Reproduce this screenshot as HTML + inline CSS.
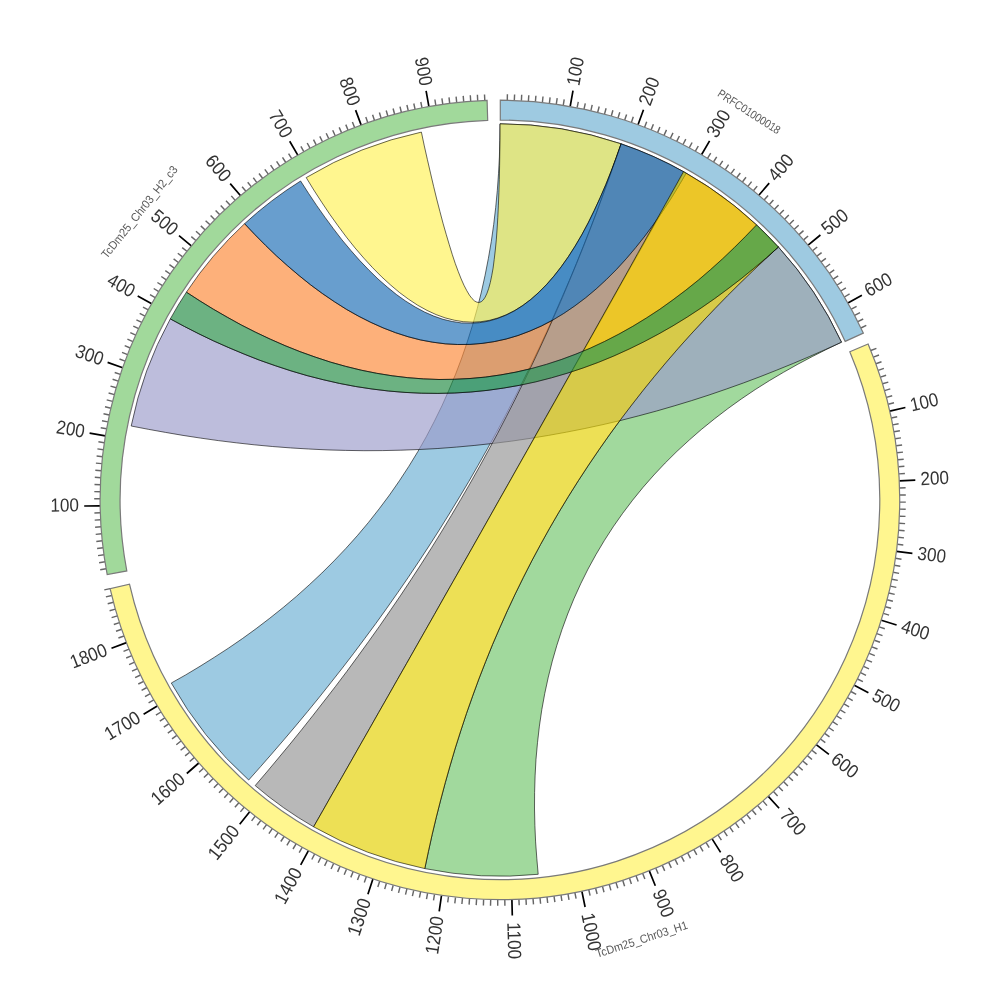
<!DOCTYPE html>
<html><head><meta charset="utf-8"><title>Circos</title>
<style>html,body{margin:0;padding:0;background:#fff}svg{display:block}</style></head>
<body><svg width="1000" height="1000" viewBox="0 0 1000 1000">
<rect width="1000" height="1000" fill="#fff"/>
<path d="M248.7 780 A376.2 376.2 0 0 1 171.3 683 L185.7 674.9 200 666.3 214.2 657.4 228.4 648.2 242.4 638.6 256.2 628.6 269.8 618.2 283.2 607.5 296.4 596.4 309.2 584.9 321.8 573.1 334 560.9 345.9 548.4 357.4 535.6 368.5 522.4 379.2 508.8 389.5 495 399.4 480.8 408.8 466.4 417.8 451.7 426.3 436.7 434.3 421.4 441.9 405.9 448.9 390.2 455.6 374.2 461.7 358.1 467.3 341.8 472.5 325.3 477.2 308.7 481.4 292 485.1 275.2 488.4 258.3 491.3 241.4 493.7 224.5 495.7 207.5 497.3 190.6 498.5 173.7 499.4 157 499.8 140.3 500 123.8 A376.2 376.2 0 0 1 621.1 143.8 L615.2 160.8 609.2 177.8 603 194.8 596.7 211.9 590.1 229 583.4 246.1 576.5 263.2 569.4 280.3 562 297.3 554.5 314.4 546.8 331.4 538.9 348.4 530.8 365.3 522.5 382.1 514 398.9 505.3 415.7 496.5 432.3 487.4 448.8 478.1 465.3 468.7 481.7 459 497.9 449.2 514 439.2 530.1 429.1 545.9 418.7 561.7 408.3 577.3 397.6 592.8 386.8 608.2 375.9 623.4 364.8 638.4 353.7 653.3 342.3 668.1 330.9 682.6 319.4 697.1 307.8 711.3 296.1 725.4 284.3 739.3 272.5 753 260.6 766.6 248.7 780Z" fill="#6cb0d4" fill-opacity="0.667" stroke="#000" stroke-width="0.7" stroke-opacity="0.85"/>
<path d="M538.2 874.3 A376.2 376.2 0 0 1 424.8 868.6 L428.4 851.6 432.2 834.4 436.3 817.2 440.7 799.9 445.3 782.6 450.2 765.3 455.3 748 460.8 730.7 466.5 713.4 472.6 696.1 478.9 678.9 485.6 661.7 492.5 644.6 499.8 627.7 507.3 610.8 515.2 594 523.4 577.3 531.8 560.8 540.6 544.4 549.6 528.2 558.9 512.2 568.5 496.3 578.4 480.6 588.6 465 599 449.7 609.6 434.6 620.5 419.7 631.7 405 643 390.5 654.6 376.2 666.3 362.2 678.2 348.4 690.3 334.9 702.6 321.6 715 308.5 727.5 295.7 740.1 283.2 752.8 270.9 765.6 258.8 778.4 247 A376.2 376.2 0 0 1 841.5 342.2 L826.9 349.2 812.4 356.5 797.9 364.2 783.5 372.3 769.3 380.7 755.2 389.6 741.4 398.9 727.9 408.6 714.7 418.7 701.7 429.2 689.2 440.1 677 451.3 665.2 463 653.9 475 643 487.4 632.6 500.2 622.7 513.3 613.2 526.8 604.3 540.6 595.9 554.7 588 569.1 580.7 583.8 573.9 598.8 567.7 614 562 629.5 556.9 645.2 552.3 661.1 548.3 677.1 544.8 693.3 541.8 709.7 539.4 726.1 537.5 742.7 536 759.2 535.1 775.9 534.6 792.5 534.5 809 534.9 825.5 535.6 841.9 536.8 858.2 538.2 874.3Z" fill="#72c66c" fill-opacity="0.667" stroke="#000" stroke-width="0.7" stroke-opacity="0.85"/>
<path d="M306.2 177.6 A376.2 376.2 0 0 1 421.4 132.1 L424.3 145.9 427.4 159.6 430.5 173.1 433.6 186.3 436.7 199 439.9 211.4 443 223.2 446.2 234.3 449.3 244.8 452.3 254.6 455.3 263.6 458.3 271.7 461.2 279 464 285.3 466.8 290.7 469.4 295.1 472 298.5 474.5 300.9 476.9 302.2 479.1 302.5 481.3 301.7 483.3 299.9 485.2 297.1 487 293.2 488.7 288.4 490.3 282.5 491.7 275.8 493.1 268.1 494.2 259.5 495.3 250.1 496.3 239.9 497.1 229 497.8 217.4 498.4 205.2 498.9 192.5 499.3 179.3 499.6 165.8 499.8 151.9 500 137.9 500 123.8 A376.2 376.2 0 0 1 621.1 143.8 L616.3 157.6 611.2 171.2 605.8 184.6 600.2 197.7 594.3 210.5 588.2 222.9 581.9 234.7 575.3 246 568.4 256.7 561.4 266.7 554.1 276 546.7 284.5 539 292.3 531.2 299.2 523.2 305.2 515 310.4 506.7 314.6 498.2 317.9 489.6 320.3 480.9 321.7 472.1 322.2 463.2 321.7 454.2 320.2 445.2 317.9 436.1 314.6 427 310.4 417.8 305.3 408.7 299.3 399.6 292.6 390.6 285 381.5 276.7 372.6 267.7 363.8 258.1 355 247.9 346.4 237.1 338 225.8 329.7 214.2 321.7 202.2 313.8 190 306.2 177.6Z" fill="#fff257" fill-opacity="0.667" stroke="#000" stroke-width="0.7" stroke-opacity="0.85"/>
<path d="M131.2 426 A376.2 376.2 0 0 1 170.3 318.9 L184.5 326.5 199 333.9 213.8 341 228.9 347.7 244.2 354.1 259.6 360.2 275.3 365.7 291.1 370.9 307.1 375.6 323.2 379.7 339.4 383.4 355.7 386.5 372.1 389 388.5 391 405 392.4 421.4 393.2 437.9 393.4 454.3 393 470.7 392 487 390.4 503.3 388.1 519.5 385.3 535.6 381.9 551.5 377.8 567.3 373.2 583 368 598.5 362.3 613.8 356 629 349.1 643.9 341.8 658.6 334 673 325.8 687.2 317.1 701.1 308 714.8 298.5 728.1 288.7 741.2 278.7 753.9 268.3 766.4 257.8 778.4 247 A376.2 376.2 0 0 1 841.5 342.2 L825.7 349.4 809.6 356.5 793.3 363.4 776.8 370.1 760.1 376.7 743.3 383 726.2 389.1 709 395 691.7 400.6 674.2 405.9 656.6 411 638.8 415.8 620.9 420.4 603 424.6 584.9 428.5 566.7 432.1 548.5 435.4 530.1 438.4 511.8 441.1 493.3 443.4 474.9 445.4 456.4 447.1 437.9 448.5 419.3 449.5 400.8 450.2 382.3 450.6 363.9 450.7 345.4 450.4 327 449.9 308.7 449 290.4 447.9 272.3 446.5 254.2 444.8 236.2 442.8 218.3 440.6 200.6 438.1 183 435.4 165.5 432.4 148.3 429.3 131.2 426Z" fill="#9c9ccb" fill-opacity="0.667" stroke="#000" stroke-width="0.7" stroke-opacity="0.85"/>
<path d="M186.4 292.2 A376.2 376.2 0 0 1 244.6 223.7 L255 234.7 265.6 245.4 276.5 255.9 287.7 265.9 299.1 275.6 310.7 284.9 322.5 293.6 334.4 301.7 346.4 309.3 358.6 316.2 370.9 322.4 383.2 327.9 395.6 332.7 408 336.7 420.4 339.9 432.8 342.2 445.2 343.8 457.6 344.5 469.9 344.4 482.1 343.4 494.2 341.6 506.1 339 518 335.5 529.7 331.1 541.3 326 552.7 320.1 563.8 313.4 574.8 305.9 585.6 297.8 596.1 289 606.4 279.5 616.5 269.4 626.2 258.8 635.7 247.6 644.9 236 653.8 224 662.4 211.6 670.7 199 678.6 186.1 686.2 173.1 A376.2 376.2 0 0 1 756.6 224.9 L745.6 236.3 734.3 247.6 722.7 258.7 710.7 269.5 698.5 280 685.9 290.1 673 299.8 659.9 309.2 646.4 318 632.8 326.3 618.9 334.1 604.7 341.4 590.4 348.1 575.9 354.1 561.1 359.6 546.3 364.4 531.3 368.6 516.1 372.1 500.8 374.9 485.5 377.1 470 378.5 454.5 379.3 439 379.5 423.4 378.9 407.8 377.7 392.2 375.8 376.7 373.3 361.2 370.2 345.7 366.4 330.4 362.1 315.2 357.1 300.1 351.7 285.1 345.7 270.3 339.2 255.7 332.3 241.3 325 227.2 317.2 213.3 309.2 199.7 300.8 186.4 292.2Z" fill="#fc8938" fill-opacity="0.667" stroke="#000" stroke-width="0.7" stroke-opacity="0.85"/>
<path d="M313.6 826.8 A376.2 376.2 0 0 1 255.2 785.6 L266.8 772 278.4 758.1 290 744.1 301.5 729.9 312.9 715.5 324.2 701 335.5 686.4 346.7 671.6 357.7 656.6 368.6 641.5 379.5 626.2 390.1 610.8 400.7 595.3 411.1 579.6 421.4 563.8 431.5 547.9 441.4 531.9 451.2 515.7 460.8 499.4 470.3 483 479.5 466.6 488.6 450 497.6 433.4 506.3 416.6 514.9 399.8 523.2 382.9 531.4 366 539.4 349 547.2 332 554.8 314.9 562.3 297.8 569.5 280.6 576.6 263.5 583.5 246.3 590.2 229.2 596.7 212.1 603 194.9 609.2 177.9 615.2 160.8 621.1 143.8 A376.2 376.2 0 0 1 684.2 172 L675 188.4 665.8 204.8 656.6 221.2 647.4 237.5 638.2 253.9 628.9 270.3 619.7 286.7 610.5 303.1 601.3 319.5 592 335.9 582.8 352.3 573.5 368.7 564.3 385 555.1 401.4 545.8 417.8 536.5 434.2 527.3 450.6 518 467 508.8 483.3 499.5 499.7 490.2 516.1 481 532.5 471.7 548.8 462.4 565.2 453.1 581.6 443.8 597.9 434.5 614.3 425.3 630.7 416 647 406.7 663.4 397.4 679.7 388.1 696.1 378.8 712.4 369.5 728.8 360.2 745.1 350.9 761.5 341.6 777.8 332.2 794.1 322.9 810.5 313.6 826.8Z" fill="#959595" fill-opacity="0.667" stroke="#000" stroke-width="0.7" stroke-opacity="0.85"/>
<path d="M244.6 223.7 A376.2 376.2 0 0 1 300.6 181 L308.5 193.3 316.6 205.4 324.9 217.2 333.4 228.7 342 239.9 350.9 250.5 359.8 260.6 368.9 270.1 378 279 387.3 287.1 396.5 294.6 405.8 301.2 415.2 307 424.5 312 433.8 316.1 443 319.3 452.3 321.5 461.4 322.9 470.5 323.2 479.4 322.7 488.3 321.2 497 318.7 505.6 315.3 514.1 311 522.4 305.8 530.5 299.7 538.4 292.7 546.2 284.9 553.7 276.3 561 267 568.2 256.9 575 246.2 581.7 234.9 588.1 223 594.2 210.6 600.1 197.8 605.8 184.7 611.1 171.2 616.2 157.6 621.1 143.8 A376.2 376.2 0 0 1 686.2 173.1 L678.6 186.1 670.7 199 662.4 211.6 653.8 224 644.9 236 635.7 247.6 626.2 258.8 616.5 269.4 606.4 279.5 596.1 289 585.6 297.8 574.8 305.9 563.8 313.4 552.7 320.1 541.3 326 529.7 331.1 518 335.5 506.1 339 494.2 341.6 482.1 343.4 469.9 344.4 457.6 344.5 445.2 343.8 432.8 342.2 420.4 339.9 408 336.7 395.6 332.7 383.2 327.9 370.9 322.4 358.6 316.2 346.4 309.3 334.4 301.7 322.5 293.6 310.7 284.9 299.1 275.6 287.7 265.9 276.5 255.9 265.6 245.4 255 234.7 244.6 223.7Z" fill="#1d6eb6" fill-opacity="0.667" stroke="#000" stroke-width="0.7" stroke-opacity="0.85"/>
<path d="M424.8 868.6 A376.2 376.2 0 0 1 313.6 826.8 L322.9 810.5 332.2 794.1 341.5 777.8 350.8 761.5 360.1 745.1 369.4 728.8 378.7 712.4 388 696.1 397.3 679.7 406.6 663.4 415.9 647 425.2 630.6 434.5 614.3 443.7 597.9 453 581.5 462.3 565.2 471.6 548.8 480.8 532.4 490.1 516 499.3 499.6 508.6 483.2 517.8 466.8 527.1 450.4 536.3 434.1 545.5 417.7 554.8 401.3 564 384.9 573.2 368.5 582.4 352.1 591.7 335.7 600.9 319.2 610.1 302.8 619.3 286.4 628.5 270 637.6 253.6 646.8 237.2 656 220.8 665.2 204.4 674.4 188 683.5 171.6 A376.2 376.2 0 0 1 778.4 247 L765.6 258.8 752.8 270.9 740.1 283.2 727.5 295.7 715 308.5 702.6 321.6 690.3 334.9 678.2 348.4 666.3 362.2 654.6 376.2 643 390.5 631.7 405 620.5 419.7 609.6 434.6 599 449.7 588.6 465 578.4 480.6 568.5 496.3 558.9 512.2 549.6 528.2 540.6 544.4 531.8 560.8 523.4 577.3 515.2 594 507.3 610.8 499.8 627.7 492.5 644.6 485.6 661.7 478.9 678.9 472.6 696.1 466.5 713.4 460.8 730.7 455.3 748 450.2 765.3 445.3 782.6 440.7 799.9 436.3 817.2 432.2 834.4 428.4 851.6 424.8 868.6Z" fill="#e4d100" fill-opacity="0.667" stroke="#000" stroke-width="0.7" stroke-opacity="0.85"/>
<path d="M170.3 318.9 A376.2 376.2 0 0 1 186.4 292.2 L199.7 300.8 213.3 309.2 227.2 317.2 241.3 325 255.7 332.3 270.3 339.2 285.1 345.7 300.1 351.7 315.2 357.1 330.4 362.1 345.7 366.4 361.2 370.2 376.7 373.3 392.2 375.8 407.8 377.7 423.4 378.9 439 379.5 454.5 379.3 470 378.5 485.5 377.1 500.8 374.9 516.1 372.1 531.3 368.6 546.3 364.4 561.1 359.6 575.9 354.1 590.4 348.1 604.7 341.4 618.9 334.1 632.8 326.3 646.4 318 659.9 309.2 673 299.8 685.9 290.1 698.5 280 710.7 269.5 722.7 258.7 734.3 247.6 745.6 236.3 756.6 224.9 A376.2 376.2 0 0 1 778.4 247 L766.4 257.8 753.9 268.3 741.2 278.7 728.1 288.7 714.8 298.5 701.1 308 687.2 317.1 673 325.8 658.6 334 643.9 341.8 629 349.1 613.8 356 598.5 362.3 583 368 567.3 373.2 551.5 377.8 535.6 381.9 519.5 385.3 503.3 388.1 487 390.4 470.7 392 454.3 393 437.9 393.4 421.4 393.2 405 392.4 388.5 391 372.1 389 355.7 386.5 339.4 383.4 323.2 379.7 307.1 375.6 291.1 370.9 275.3 365.7 259.6 360.2 244.2 354.1 228.9 347.7 213.8 341 199 333.9 184.5 326.5 170.3 318.9Z" fill="#238c44" fill-opacity="0.667" stroke="#000" stroke-width="0.7" stroke-opacity="0.85"/>
<path d="M507.3 100.3L507.4 94.3M514.3 100.5L514.6 94.5M521.4 100.8L521.7 94.8M528.4 101.2L528.8 95.2M535.4 101.8L535.9 95.8M542.4 102.5L543 96.5M549.4 103.3L550.1 97.3M556.3 104.2L557.2 98.2M563.3 105.2L564.2 99.3M577.1 107.7L578.3 101.8M584 109.1L585.3 103.3M590.9 110.7L592.2 104.8M597.7 112.3L599.2 106.5M604.5 114.1L606.1 108.3M611.3 116L612.9 110.2M618 118L619.8 112.3M624.7 120.1L626.6 114.4M631.4 122.4L633.3 116.7M644.6 127.3L646.7 121.7M651.1 129.9L653.4 124.3M657.6 132.6L659.9 127M664 135.4L666.5 129.9M670.4 138.3L673 132.9M676.7 141.4L679.4 136M683 144.5L685.8 139.2M689.2 147.8L692.1 142.5M695.4 151.2L698.3 146M707.5 158.3L710.7 153.2M713.5 162L716.7 156.9M719.4 165.8L722.7 160.8M725.3 169.7L728.6 164.7M731 173.7L734.5 168.8M736.7 177.8L740.3 173M742.4 182L746 177.3M747.9 186.4L751.6 181.6M753.4 190.8L757.2 186.1M764.1 199.9L768.1 195.4M769.4 204.6L773.4 200.1M774.5 209.3L778.6 205M779.6 214.2L783.8 209.9M784.6 219.2L788.8 215M789.5 224.2L793.8 220.1M794.3 229.3L798.7 225.3M799 234.6L803.5 230.6M803.6 239.9L808.1 236M812.5 250.7L817.2 247M816.9 256.2L821.6 252.6M821.1 261.8L825.9 258.3M825.3 267.5L830.1 264M829.3 273.3L834.2 269.9M833.2 279.1L838.2 275.8M837.1 285L842.1 281.8M840.8 291L845.9 287.8M844.4 297L849.6 293.9M851.3 309.2L856.6 306.4M854.6 315.4L860 312.7M857.8 321.7L863.2 319M860.9 328L866.3 325.4M870.8 350.5L876.4 348.3M873.4 357.1L879 355M875.9 363.7L881.5 361.7M878.2 370.4L883.9 368.4M880.4 377.1L886.1 375.2M882.5 383.8L888.3 382.1M884.5 390.6L890.3 388.9M886.4 397.4L892.2 395.8M888.2 404.2L894 402.8M891.3 418L897.2 416.7M892.7 424.9L898.6 423.8M893.9 431.8L899.9 430.8M895.1 438.8L901 437.9M896.1 445.8L902.1 445M897 452.8L903 452.1M897.8 459.8L903.7 459.2M898.4 466.8L904.4 466.3M898.9 473.9L904.9 473.5M899.6 488L905.6 487.8M899.8 495L905.8 495M899.8 502.1L905.8 502.1M899.7 509.1L905.7 509.3M899.5 516.2L905.5 516.4M899.1 523.3L905.1 523.6M898.7 530.3L904.6 530.7M898.1 537.3L904 537.9M897.3 544.3L903.3 545M895.5 558.3L901.5 559.2M894.4 565.3L900.3 566.3M893.2 572.3L899.1 573.4M891.9 579.2L897.8 580.4M890.4 586.1L896.3 587.4M888.8 593L894.7 594.4M887.1 599.8L892.9 601.3M885.3 606.7L891.1 608.3M883.4 613.4L889.1 615.1M879.1 626.9L884.8 628.8M876.8 633.6L882.5 635.6M874.4 640.2L880 642.3M871.9 646.8L877.5 649M869.2 653.3L874.8 655.6M866.5 659.8L872 662.2M863.6 666.3L869 668.8M860.6 672.7L866 675.3M857.5 679L862.9 681.7M850.9 691.5L856.2 694.4M847.5 697.7L852.7 700.6M844 703.8L849.1 706.8M840.3 709.8L845.4 713M836.6 715.8L841.6 719M832.7 721.7L837.7 725M828.7 727.5L833.7 731M824.7 733.3L829.5 736.8M820.5 739L825.3 742.6M811.9 750.2L816.5 753.9M807.4 755.6L812 759.5M802.8 761L807.4 764.9M798.2 766.3L802.7 770.3M793.4 771.6L797.8 775.6M788.6 776.7L792.9 780.8M783.7 781.7L787.9 786M778.6 786.7L782.8 791M773.5 791.6L777.6 796M763.1 801.1L767 805.6M757.7 805.6L761.6 810.2M752.3 810.2L756.1 814.8M746.8 814.6L750.5 819.3M741.2 818.9L744.8 823.6M735.5 823.1L739 827.9M729.8 827.2L733.2 832.1M724 831.2L727.3 836.2M718.1 835.1L721.4 840.1M706.1 842.6L709.2 847.7M700 846.2L703 851.4M693.9 849.6L696.8 854.9M687.7 853L690.5 858.3M681.4 856.3L684.2 861.6M675.1 859.4L677.7 864.8M668.7 862.4L671.3 867.9M662.3 865.4L664.7 870.9M655.8 868.2L658.2 873.7M642.7 873.4L644.9 879.1M636.1 875.9L638.2 881.6M629.5 878.3L631.4 883.9M622.8 880.5L624.6 886.2M616 882.6L617.8 888.3M609.3 884.6L610.9 890.4M602.5 886.4L604 892.2M595.6 888.2L597.1 894M588.8 889.8L590.1 895.7M574.9 892.7L576.1 898.6M568 894L569 899.9M561 895.1L561.9 901M554 896.1L554.9 902.1M547 897L547.7 903M540 897.8L540.6 903.8M533 898.4L533.5 904.4M526 899L526.3 904.9M518.9 899.4L519.2 905.3M504.8 899.8L504.9 905.8M497.7 899.8L497.7 905.8M490.7 899.7L490.5 905.7M483.6 899.5L483.4 905.5M476.6 899.1L476.2 905.1M469.5 898.6L469.1 904.6M462.5 898L461.9 904M455.5 897.3L454.8 903.3M448.5 896.5L447.7 902.4M434.5 894.4L433.5 900.3M427.6 893.2L426.5 899.1M420.6 891.8L419.4 897.7M413.7 890.4L412.4 896.2M406.9 888.8L405.5 894.6M400 887.1L398.5 892.9M393.2 885.3L391.6 891M386.4 883.3L384.7 889.1M379.7 881.3L377.8 887M366.3 876.8L364.3 882.4M359.6 874.4L357.5 880M353.1 871.8L350.8 877.4M346.5 869.2L344.2 874.7M340 866.4L337.6 871.9M333.6 863.5L331.1 869M327.2 860.5L324.6 865.9M320.8 857.4L318.2 862.8M314.6 854.2L311.8 859.5M302.2 847.4L299.2 852.6M296.1 843.9L293 849M290 840.2L286.9 845.3M284.1 836.5L280.8 841.5M278.2 832.6L274.8 837.6M272.3 828.6L268.9 833.6M266.6 824.6L263.1 829.4M260.9 820.4L257.3 825.2M255.2 816.1L251.6 820.9M244.2 807.3L240.4 811.9M238.9 802.7L234.9 807.3M233.5 798.1L229.6 802.5M228.3 793.3L224.3 797.7M223.2 788.5L219 792.8M218.1 783.5L213.9 787.8M213.2 778.5L208.9 782.7M208.3 773.4L203.9 777.5M203.5 768.2L199.1 772.3M194.2 757.6L189.7 761.5M189.7 752.2L185.1 755.9M185.3 746.6L180.6 750.3M181 741L176.3 744.7M176.8 735.4L172 738.9M172.7 729.6L167.8 733.1M168.7 723.8L163.8 727.2M164.8 717.9L159.8 721.2M161 712L155.9 715.2M153.8 699.9L148.6 702.9M150.3 693.7L145 696.7M146.9 687.5L141.6 690.4M143.7 681.3L138.3 684M140.5 675L135.1 677.6M137.5 668.6L132 671.1M134.6 662.2L129.1 664.6M131.8 655.7L126.2 658M129.1 649.2L123.5 651.4M124 636L118.4 638M121.7 629.3L116 631.3M119.5 622.6L113.8 624.5M117.4 615.9L111.6 617.6M115.4 609.1L109.6 610.7M113.5 602.3L107.7 603.8M111.8 595.5L105.9 596.9M110.1 588.6L104.3 589.9M106.1 568.7L100.2 569.7M105 561.8L99.1 562.7M104 554.8L98 555.6M103.1 547.8L97.1 548.5M102.3 540.8L96.3 541.5M101.6 533.8L95.7 534.4M101.1 526.8L95.1 527.2M100.7 519.8L94.7 520.1M100.4 512.8L94.4 513M100.2 498.7L94.2 498.7M100.3 491.7L94.3 491.6M100.5 484.7L94.5 484.5M100.8 477.7L94.8 477.3M101.3 470.7L95.3 470.2M101.9 463.6L95.9 463.1M102.6 456.7L96.6 456M103.4 449.7L97.4 448.9M104.3 442.7L98.4 441.8M106.6 428.8L100.7 427.8M107.9 421.9L102 420.8M109.3 415L103.5 413.8M110.9 408.2L105 406.8M112.6 401.4L106.7 399.9M114.4 394.6L108.6 393M116.3 387.8L110.5 386.1M118.3 381.1L112.6 379.3M120.4 374.4L114.7 372.5M125.1 361.1L119.5 359M127.6 354.6L122 352.4M130.2 348L124.7 345.7M132.9 341.6L127.4 339.2M135.8 335.1L130.3 332.6M138.7 328.7L133.3 326.2M141.8 322.4L136.4 319.8M145 316.2L139.7 313.4M148.3 309.9L143 307.1M155.2 297.7L150 294.7M158.8 291.7L153.7 288.5M162.5 285.7L157.4 282.5M166.3 279.8L161.3 276.5M170.2 274L165.3 270.6M174.3 268.2L169.4 264.7M178.4 262.5L173.6 258.9M182.6 256.9L177.8 253.2M186.9 251.3L182.2 247.6M195.9 240.5L191.3 236.6M200.5 235.2L196 231.2M205.2 230L200.8 225.9M210 224.8L205.6 220.7M214.8 219.8L210.6 215.6M219.8 214.8L215.6 210.5M224.9 209.9L220.7 205.6M230 205.1L226 200.7M235.2 200.4L231.3 195.9M245.9 191.3L242.1 186.7M251.4 186.9L247.7 182.2M256.9 182.6L253.3 177.8M262.6 178.3L259 173.5M268.3 174.2L264.8 169.3M274 170.2L270.6 165.2M279.9 166.3L276.6 161.3M285.8 162.5L282.5 157.4M291.7 158.7L288.6 153.6M303.8 151.6L300.9 146.4M310 148.2L307.2 143M316.2 144.9L313.5 139.6M322.5 141.8L319.8 136.4M328.8 138.7L326.2 133.3M335.2 135.8L332.7 130.3M341.6 132.9L339.2 127.4M348.1 130.2L345.8 124.6M354.6 127.6L352.4 122M367.8 122.7L365.8 117M374.5 120.4L372.6 114.7M381.1 118.3L379.4 112.5M387.9 116.2L386.2 110.5M394.6 114.3L393.1 108.5M401.4 112.5L400 106.7M408.3 110.9L406.9 105M415.1 109.3L413.8 103.5M422 107.9L420.8 102M435.8 105.4L434.9 99.5M442.8 104.3L441.9 98.4M449.7 103.4L449 97.4M456.7 102.5L456.1 96.6M463.7 101.8L463.2 95.9M470.7 101.3L470.3 95.3M477.7 100.8L477.4 94.8M484.8 100.5L484.5 94.5" stroke="#666" stroke-width="1.45" fill="none"/>
<path d="M570.2 106.4L573 90.7M638 124.8L643.5 109.7M701.5 154.7L709.6 140.9M758.8 195.3L769.2 183.1M808.1 245.2L820.4 235M847.9 303.1L861.9 295.2M889.8 411.1L905.4 407.5M899.3 480.9L915.3 480.2M896.5 551.4L912.4 553.4M881.3 620.2L896.6 625M854.3 685.3L868.4 692.7M816.2 744.6L828.9 754.4M768.3 796.4L779.1 808.2M712.1 838.9L720.6 852.4M649.3 870.9L655.3 885.7M581.9 891.3L585.1 907M511.9 899.6L512.3 915.6M441.5 895.5L439.2 911.3M372.9 879.1L367.9 894.2M308.3 850.9L300.7 864.9M249.7 811.8L239.7 824.2M198.8 763L186.8 773.5M157.3 706L143.6 714.2M126.5 642.6L111.5 648.3M100.2 505.8L84.2 506M105.4 435.8L89.6 433.2M122.7 367.7L107.6 362.4M151.7 303.8L137.7 295.9M191.3 245.9L179 235.7M240.6 195.8L230.2 183.6M297.8 155.1L289.7 141.3M361.2 125.1L355.6 110.1M428.9 106.6L426.1 90.8" stroke="#000" stroke-width="1.7" fill="none"/>
<path d="M500.3 100.2 A399.8 399.8 0 0 1 863.3 333.1 L845.2 341.4 A379.9 379.9 0 0 0 500.3 120.1Z" fill="#9ecae1" stroke="#7a7a7a" stroke-width="1.2"/>
<path d="M868.1 344 A399.8 399.8 0 1 1 110.1 588.6 L129.5 584.2 A379.9 379.9 0 1 0 849.8 351.8Z" fill="#fff68f" stroke="#7a7a7a" stroke-width="1.2"/>
<path d="M107.2 574.6 A399.8 399.8 0 0 1 487.1 100.4 L487.7 120.3 A379.9 379.9 0 0 0 126.8 570.9Z" fill="#a1d99b" stroke="#7a7a7a" stroke-width="1.2"/>
<g font-family="'Liberation Sans', sans-serif" font-size="19" fill="#333"><text transform="translate(573.9 85.5) rotate(-79.9) scale(0.9 1)" text-anchor="start" dy="0.28em">100</text><text transform="translate(645.3 104.9) rotate(-69.8) scale(0.9 1)" text-anchor="start" dy="0.28em">200</text><text transform="translate(712.2 136.4) rotate(-59.7) scale(0.9 1)" text-anchor="start" dy="0.28em">300</text><text transform="translate(772.5 179.1) rotate(-49.7) scale(0.9 1)" text-anchor="start" dy="0.28em">400</text><text transform="translate(824.5 231.7) rotate(-39.6) scale(0.9 1)" text-anchor="start" dy="0.28em">500</text><text transform="translate(866.4 292.6) rotate(-29.5) scale(0.9 1)" text-anchor="start" dy="0.28em">600</text><text transform="translate(910.5 406.4) rotate(-12.9) scale(0.9 1)" text-anchor="start" dy="0.28em">100</text><text transform="translate(920.5 479.9) rotate(-2.7) scale(0.9 1)" text-anchor="start" dy="0.28em">200</text><text transform="translate(917.5 554.1) rotate(7.4) scale(0.9 1)" text-anchor="start" dy="0.28em">300</text><text transform="translate(901.5 626.6) rotate(17.5) scale(0.9 1)" text-anchor="start" dy="0.28em">400</text><text transform="translate(873.1 695.1) rotate(27.6) scale(0.9 1)" text-anchor="start" dy="0.28em">500</text><text transform="translate(833 757.6) rotate(37.7) scale(0.9 1)" text-anchor="start" dy="0.28em">600</text><text transform="translate(782.6 812.1) rotate(47.8) scale(0.9 1)" text-anchor="start" dy="0.28em">700</text><text transform="translate(723.4 856.9) rotate(58) scale(0.9 1)" text-anchor="start" dy="0.28em">800</text><text transform="translate(657.2 890.5) rotate(68.1) scale(0.9 1)" text-anchor="start" dy="0.28em">900</text><text transform="translate(586.5 913.5) rotate(78.2) scale(0.9 1)" text-anchor="start" dy="0.28em">1000</text><text transform="translate(512.5 922.3) rotate(88.3) scale(0.9 1)" text-anchor="start" dy="0.28em">1100</text><text transform="translate(438.4 916.5) rotate(-81.6) scale(0.9 1)" text-anchor="end" dy="0.28em">1200</text><text transform="translate(366.2 899.2) rotate(-71.5) scale(0.9 1)" text-anchor="end" dy="0.28em">1300</text><text transform="translate(298.2 869.5) rotate(-61.4) scale(0.9 1)" text-anchor="end" dy="0.28em">1400</text><text transform="translate(236.4 828.3) rotate(-51.2) scale(0.9 1)" text-anchor="end" dy="0.28em">1500</text><text transform="translate(182.9 776.9) rotate(-41.1) scale(0.9 1)" text-anchor="end" dy="0.28em">1600</text><text transform="translate(139.2 716.9) rotate(-31) scale(0.9 1)" text-anchor="end" dy="0.28em">1700</text><text transform="translate(106.7 650.2) rotate(-20.9) scale(0.9 1)" text-anchor="end" dy="0.28em">1800</text><text transform="translate(79 506.1) rotate(-0.8) scale(0.9 1)" text-anchor="end" dy="0.28em">100</text><text transform="translate(84.5 432.4) rotate(9.2) scale(0.9 1)" text-anchor="end" dy="0.28em">200</text><text transform="translate(102.7 360.7) rotate(19.3) scale(0.9 1)" text-anchor="end" dy="0.28em">300</text><text transform="translate(133.2 293.4) rotate(29.4) scale(0.9 1)" text-anchor="end" dy="0.28em">400</text><text transform="translate(175 232.4) rotate(39.5) scale(0.9 1)" text-anchor="end" dy="0.28em">500</text><text transform="translate(226.8 179.7) rotate(49.5) scale(0.9 1)" text-anchor="end" dy="0.28em">600</text><text transform="translate(287 136.8) rotate(59.6) scale(0.9 1)" text-anchor="end" dy="0.28em">700</text><text transform="translate(353.8 105.2) rotate(69.7) scale(0.9 1)" text-anchor="end" dy="0.28em">800</text><text transform="translate(425.1 85.7) rotate(79.8) scale(0.9 1)" text-anchor="end" dy="0.28em">900</text></g>
<g font-family="'Liberation Sans', sans-serif" font-size="11.7" fill="#5a5a5a"><text transform="translate(749.2 111.6) rotate(32.7) scale(0.86 1)" text-anchor="middle" dy="0.35em">PRFC01000018</text><text transform="translate(641.7 939.2) rotate(-17.9) scale(0.935 1)" text-anchor="middle" dy="0.35em">TcDm25_Chr03_H1</text><text transform="translate(139.4 211.9) rotate(308.6) scale(0.943 1)" text-anchor="middle" dy="0.35em">TcDm25_Chr03_H2_c3</text></g>
</svg></body></html>
